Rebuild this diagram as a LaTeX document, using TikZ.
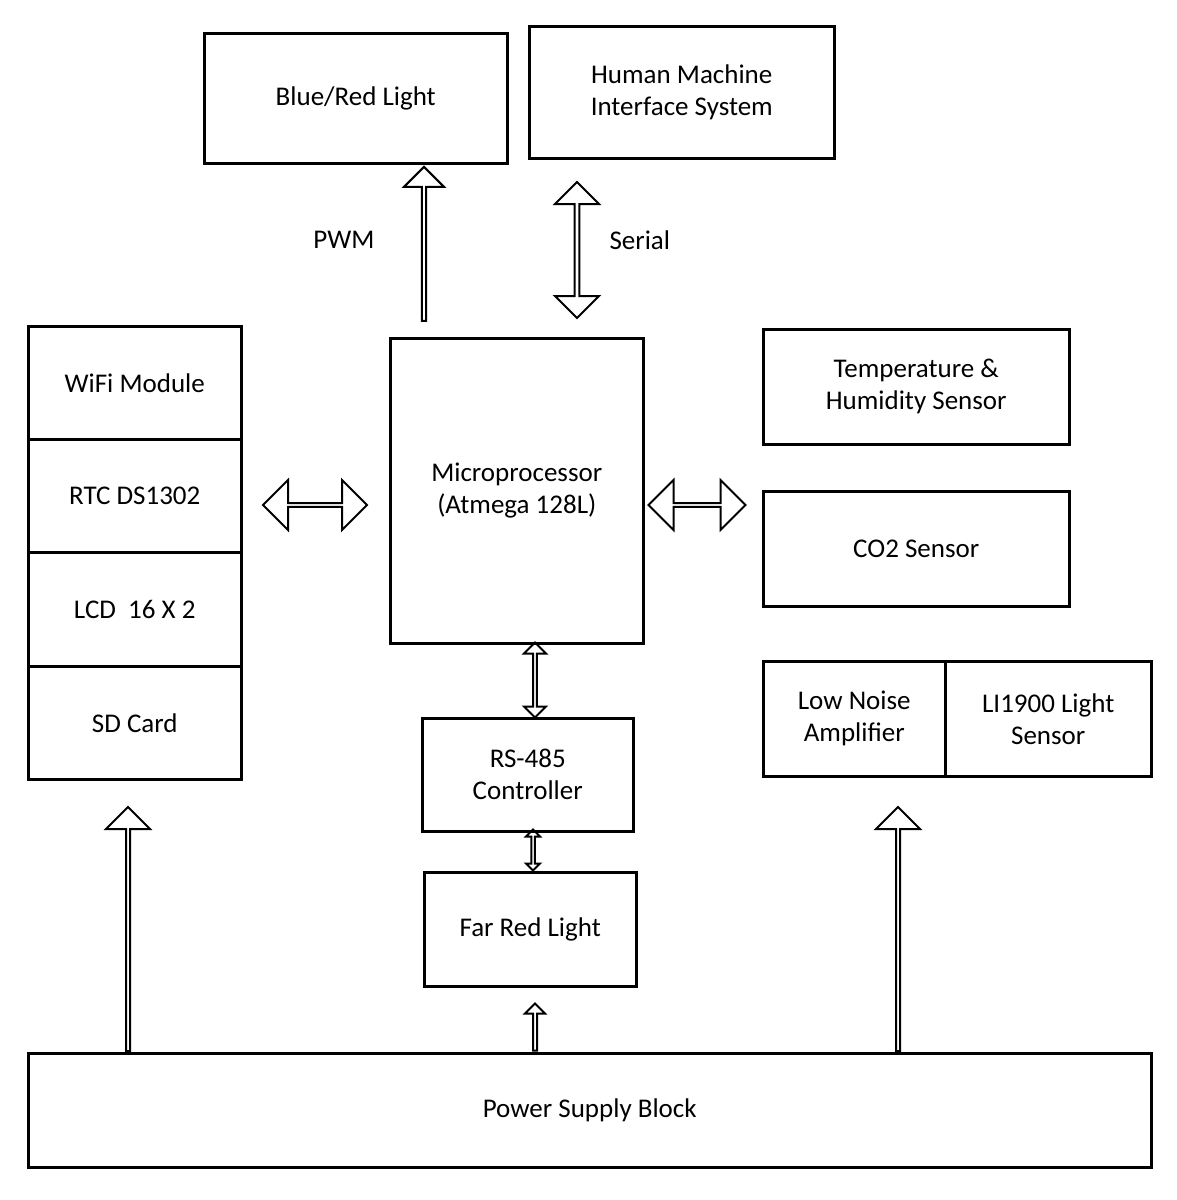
\documentclass[tikz,border=0pt]{standalone}
\usepackage{fontspec}
\setmainfont{Carlito}
\usetikzlibrary{shapes.arrows}
\begin{document}
\begin{tikzpicture}[x=1pt,y=-1pt,
 box/.style={draw,line width=2.5pt,align=center,font=\fontsize{27}{32}\selectfont},
 sa/.style={single arrow,draw,line width=2pt,inner sep=0pt,minimum width=#1},
 da/.style={double arrow,draw,line width=2pt,inner sep=0pt,minimum width=#1},
 lbl/.style={font=\fontsize{27}{32}\selectfont}]
\useasboundingbox (0,0) rectangle (1177,1200);
\newcommand\bx[6]{\node[box,minimum width=#4-#2,minimum height=#5-#3,anchor=north west] (#1) at (#2,#3) {#6};}
\bx{blue}{203}{32}{506}{162}{Blue/Red Light}
\bx{hmi}{528}{25}{833}{157}{Human Machine\\Interface System}
\bx{wifi}{27}{325}{240}{438}{WiFi Module}
\bx{rtc}{27}{438}{240}{551}{RTC DS1302}
\bx{lcd}{27}{551}{240}{665}{LCD\ \ 16 X 2}
\bx{sd}{27}{665}{240}{778}{SD Card}
\bx{mcu}{389}{337}{642}{642}{Microprocessor\\(Atmega 128L)}
\bx{temp}{762}{328}{1068}{443}{Temperature \&\\Humidity Sensor}
\bx{co2}{762}{490}{1068}{605}{CO2 Sensor}
\bx{lna}{762}{660}{944}{775}{Low Noise\\Amplifier}
\bx{li}{944}{660}{1150}{775}{LI1900 Light\\Sensor}
\bx{rs}{421}{717}{632}{830}{RS-485\\Controller}
\bx{far}{423}{871}{635}{985}{Far Red Light}
\bx{psu}{27}{1052}{1150}{1166}{Power Supply Block}
% block arrows
\node[sa=40,single arrow head extend=8,minimum height=154,rotate=90] (a1) at (424,245) {};
\node[lbl,anchor=east] (pwm) at (378,240) {PWM};
\node[da=44,double arrow head extend=8,minimum height=136,rotate=90] (a2) at (577,250) {};
\node[lbl,anchor=west] (ser) at (606,240) {Serial};
\node[da=50,double arrow head extend=12,minimum height=104] (a3) at (315,505) {};
\node[da=50,double arrow head extend=12,minimum height=97] (a4) at (697,505) {};
\node[da=22,double arrow head extend=5,minimum height=75,rotate=90] (a5) at (535,680) {};
\node[da=14,double arrow head extend=3,minimum height=41,rotate=90] (a6) at (533,850) {};
\node[sa=44,single arrow head extend=10,minimum height=244,rotate=90] (p1) at (128,930) {};
\node[sa=20,single arrow head extend=4,minimum height=47,rotate=90] (p2) at (535,1028) {};
\node[sa=44,single arrow head extend=10,minimum height=244,rotate=90] (p3) at (898,930) {};
\end{tikzpicture}
\end{document}
